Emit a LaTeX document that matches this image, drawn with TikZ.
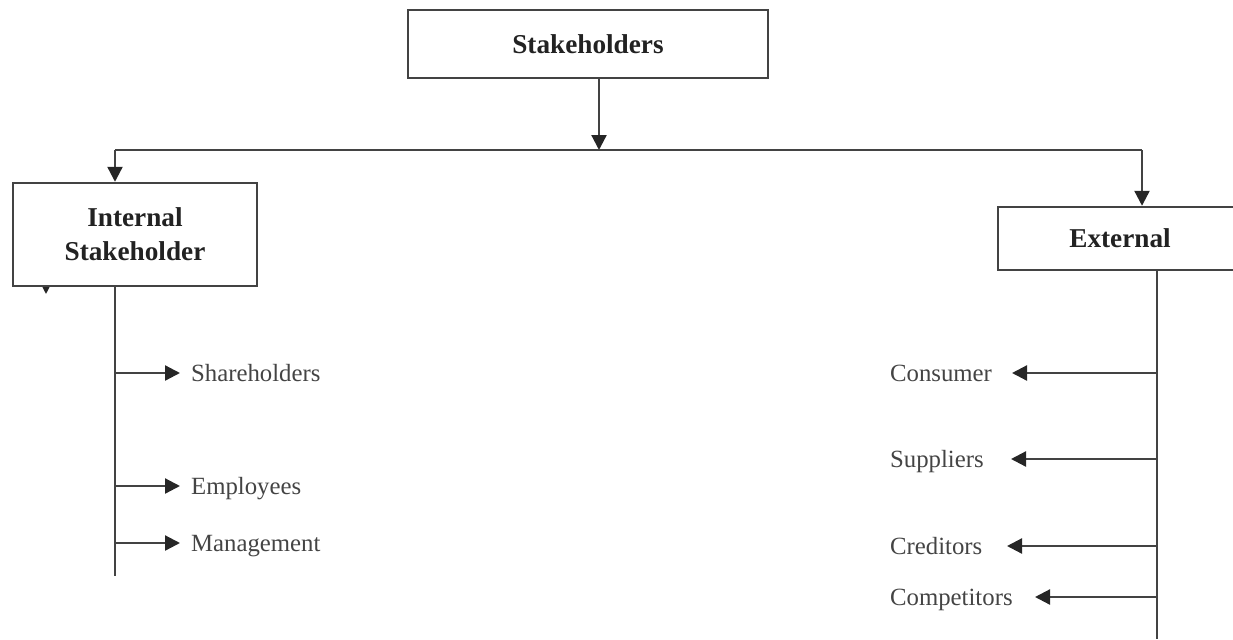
\documentclass[tikz,border=0pt]{standalone}
\usepackage{fontspec}
\setmainfont{Liberation Serif}
\usetikzlibrary{arrows.meta}

\definecolor{lineGray}{HTML}{434343}
\definecolor{textGray}{HTML}{444444}
\definecolor{headGray}{HTML}{222222}

\newcommand*{\xMax}{1233}
\newcommand*{\yMax}{639}
% trunk positions of the two branches
\newcommand*{\xIn}{115}
\newcommand*{\xOut}{1157}

\begin{document}
\begin{tikzpicture}[x=0.02cm, y=-0.02cm,
	line width=1.3pt, color=lineGray,
	>={Triangle[length=0.3cm, width=0.3cm, color=black!85]},
	head/.style={draw=lineGray, fill=white, line width=1.4pt, text=headGray,
		font=\fontsize{15.5}{19.5}\selectfont\bfseries, align=center},
	leaf/.style={text=textGray, font=\fontsize{14.1}{17}\selectfont, inner sep=0pt}]
	\useasboundingbox (0,0) rectangle (\xMax,\yMax);
	\clip (0,0) rectangle (\xMax,\yMax);

	% arrow tip peeking out under the internal box
	\coordinate (stubA) at (46,250);
	\coordinate (stubB) at (46,294);
	\path [draw, ->] (stubA) -- (stubB);

	\node [head, minimum width=7.2cm, minimum height=1.36cm] (top) at (588,44) {Stakeholders};
	\node [head, minimum width=4.88cm, minimum height=2.06cm] (int) at (135,234.5) {Internal\\Stakeholder};
	\node [head, minimum width=4.88cm, minimum height=1.26cm] (ext) at (1120,238.5) {External};

	\coordinate (split) at (599,150);
	\coordinate (lt) at (\xIn,150);
	\coordinate (rt) at (1142,150);
	\path [draw, ->] (top.south -| split) -- (split);
	\path [draw] (lt) -- (rt);
	\path [draw, ->] (lt) -- (lt |- int.north);
	\path [draw, ->] (rt) -- (rt |- ext.north);

	% internal branch
	\coordinate (inEnd) at (\xIn,576);
	\path [draw] (int.south -| inEnd) -- (inEnd);
	\foreach \lab/\y/\nm in {Shareholders/373/sh, Employees/486/em, Management/543/mg}
	{
		\coordinate (\nm-from) at (\xIn,\y);
		\node [leaf, anchor=base west] (\nm) at (190,\y+8.5) {\lab};
		\path [draw, ->] (\nm-from) -- (\nm-from -| 180,0);
	}

	% external branch
	\coordinate (outEnd) at (\xOut,\yMax);
	\path [draw] (ext.south -| outEnd) -- (outEnd);
	\foreach \lab/\y/\tx/\nm in {Consumer/373/1012/cs, Suppliers/459/1011/sp, Creditors/546/1007/cr, Competitors/597/1035/cp}
	{
		\coordinate (\nm-from) at (\xOut,\y);
		\coordinate (\nm-tip) at (\tx,\y);
		\node [leaf, anchor=base west] (\nm) at (889,\y+8.5) {\lab};
		\path [draw, ->] (\nm-from) -- (\nm-tip);
	}
\end{tikzpicture}
\end{document}
